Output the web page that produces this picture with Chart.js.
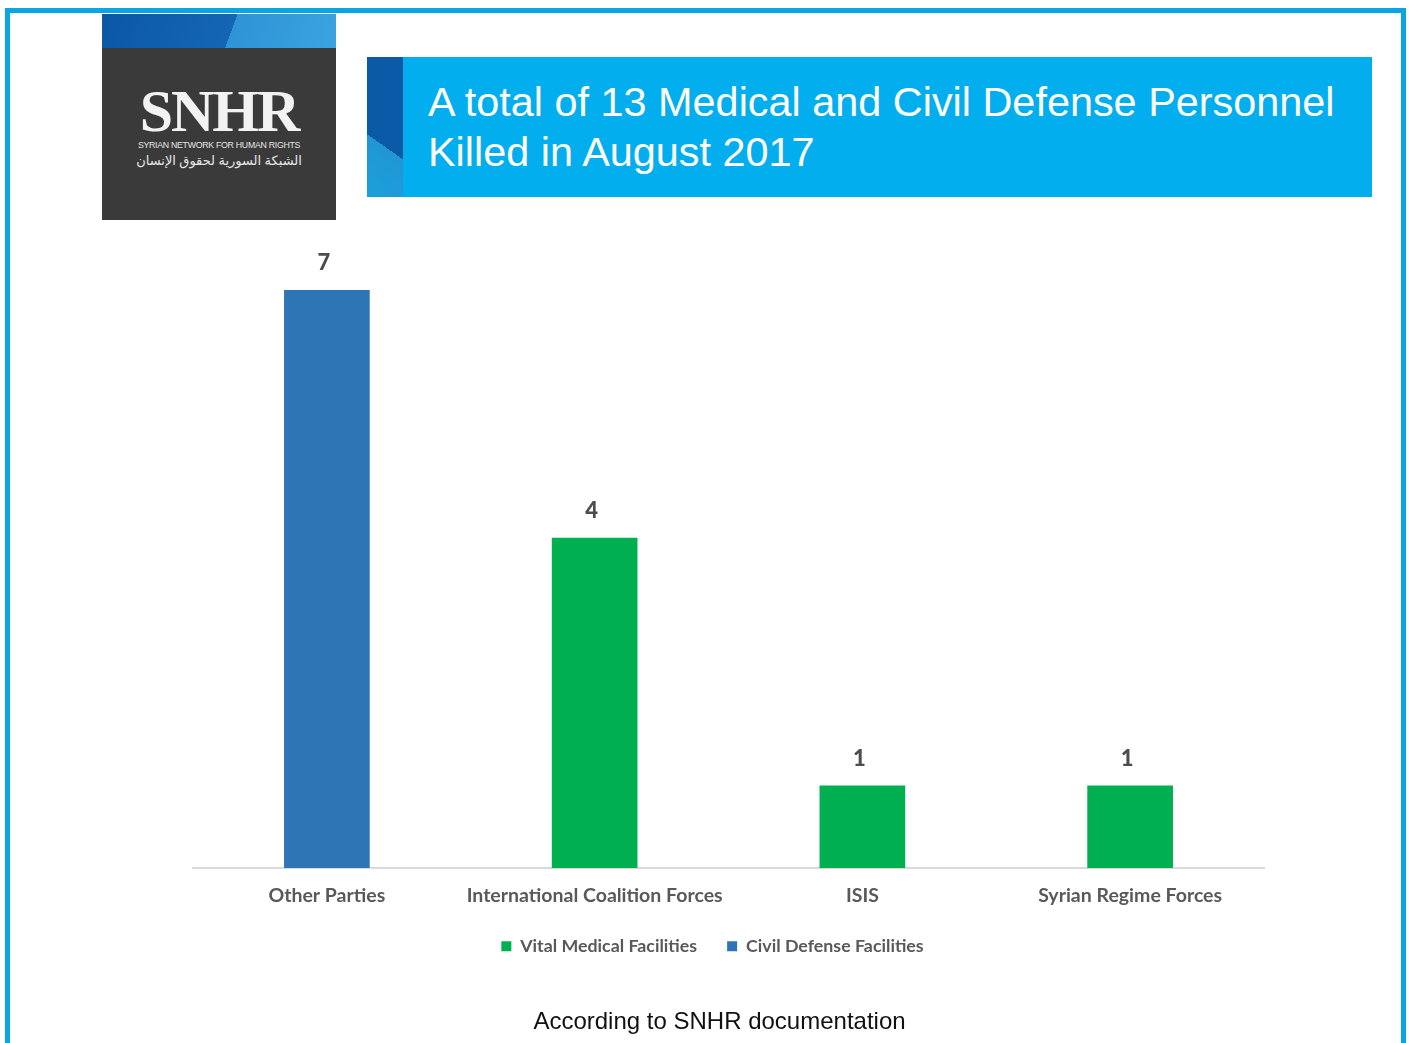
<!DOCTYPE html>
<html>
<head>
<meta charset="utf-8">
<script src="https://cdn.jsdelivr.net/npm/chart.js@4.4.0/dist/chart.umd.min.js"></script>
<style>
  html, body { margin: 0; padding: 0; width: 1410px; height: 1043px; overflow: hidden; background: #fff; }
  #frame { position: absolute; left: 5px; top: 8px; width: 1391px; height: 1100px; border: 5px solid #0aa5e3; }
  #logo { position: absolute; left: 102px; top: 14px; width: 234px; height: 206px; background: #3b3a3a; z-index: 2; }
  #logo .strip { position: absolute; left: 0; top: 0; width: 234px; height: 34px;
    background: linear-gradient(110deg, #0b57a6 0%, #1466b5 55%, #2f93d6 55%, #3aa4e0 100%); }
  #logo .name { position: absolute; left: 0; width: 234px; top: 67px; text-align: center; color: #f2f2f2;
    font-family: "Liberation Serif", serif; font-weight: bold; font-size: 60px; letter-spacing: -2px; line-height: 60px; }
  #logo .en { position: absolute; left: 0; width: 234px; top: 126px; text-align: center; color: #e6e6e6;
    font-family: "Liberation Sans", sans-serif; font-size: 8.8px; letter-spacing: -0.3px; }
  #logo .ar { position: absolute; left: 0; width: 234px; top: 137px; text-align: center; color: #e6e6e6;
    font-family: "Noto Sans", "DejaVu Sans", sans-serif; font-size: 13px; direction: rtl; }
  #banner { position: absolute; left: 367px; top: 57px; width: 1005px; height: 140px; background: #03aeee; z-index: 2; }
  #banner .accent { position: absolute; left: 0; top: 0; width: 36px; height: 140px;
    background: linear-gradient(215deg, #0a5aa8 0%, #0a5aa8 62%, #2196d4 62%, #1aa0dc 100%); }
  #banner .text { position: absolute; left: 61px; top: 20px; color: #fff; font-family: "Liberation Sans", Arial, sans-serif;
    font-size: 41.4px; line-height: 50px; white-space: nowrap; }
  #wrap { position: absolute; left: 0; top: 0; width: 1410px; height: 1043px; z-index: 1; }
</style>
</head>
<body>
<div id="frame"></div>
<div id="logo">
  <div class="strip"></div>
  <div class="name">SNHR</div>
  <div class="en">SYRIAN NETWORK FOR HUMAN RIGHTS</div>
  <div class="ar">الشبكة السورية لحقوق الإنسان</div>
</div>
<div id="banner">
  <div class="accent"></div>
  <div class="text">A total of 13 Medical and Civil Defense Personnel<br>Killed in August 2017</div>
</div>
<div id="wrap"><canvas id="canvas" width="1410" height="1043"></canvas></div>
<script>
// categories and series
const parties = ['Other Parties', 'International Coalition Forces', 'ISIS', 'Syrian Regime Forces'];
const medical = [null, 4, 1, 1];
const civilDefense = [7, null, null, null];

// draw the number over each bar
const barValues = {
    id: 'barValues',
    afterDatasetsDraw(chart) {
        const ctx = chart.ctx;
        ctx.save();
        ctx.font = '900 22px Lato, "Open Sans", sans-serif';
        ctx.fillStyle = '#4d4d4d';
        ctx.textAlign = 'center';
        ctx.textBaseline = 'middle';
        chart.data.datasets.forEach((ds, i) => {
            chart.getDatasetMeta(i).data.forEach((bar, j) => {
                if (ds.data[j] == null) return;
                ctx.fillText(ds.data[j], bar.x - 3, bar.y - 27);
            });
        });
        ctx.restore();
    }
};

// legend and footer sit a bit left of the plot centre in the original,
// legend also a little closer to the axis labels
const nudge = {
    id: 'nudge',
    afterLayout(chart) {
        chart.legend.left -= 16;
        chart.legend.right -= 16;
        chart.legend.top -= 8;
        chart.legend.bottom -= 8;
        chart.titleBlock.left -= 9;
        chart.titleBlock.right -= 9;
    }
};

const ctx = document.getElementById('canvas').getContext('2d');
const myChart = new Chart(ctx, {
    type: 'bar',
    data: {
        labels: parties,
        datasets: [{
            label: 'Vital Medical Facilities',
            data: medical,
            backgroundColor: '#00b050'
        }, {
            label: 'Civil Defense Facilities',
            data: civilDefense,
            backgroundColor: '#2e75b6'
        }]
    },
    options: {
        responsive: false,
        animation: false,
        layout: {
            padding: { left: 193, right: 146, top: 290, bottom: 0 }
        },
        datasets: {
            bar: { barPercentage: 0.32, categoryPercentage: 1 }
        },
        scales: {
            x: {
                stacked: true,
                grid: { display: false },
                border: { display: true, color: '#d9d9d9', width: 2 },
                ticks: {
                    padding: 8,
                    color: '#595959',
                    font: { family: 'Lato, "Open Sans", sans-serif', size: 19.5, weight: 'bold' }
                }
            },
            y: {
                stacked: true,
                display: false,
                min: 0,
                max: 7
            }
        },
        plugins: {
            legend: {
                position: 'bottom',
                labels: {
                    boxWidth: 10,
                    boxHeight: 10,
                    padding: 30,
                    color: '#595959',
                    font: { family: 'Lato, "Open Sans", sans-serif', size: 17.8, weight: 'bold' }
                }
            },
            title: {
                display: true,
                position: 'bottom',
                text: 'According to SNHR documentation',
                color: '#111',
                padding: { top: 35, bottom: 6 },
                font: { family: '"Liberation Sans", Arial, sans-serif', size: 24, weight: 'normal' }
            },
            tooltip: { enabled: false }
        }
    },
    plugins: [barValues, nudge]
});
</script>
</body>
</html>
